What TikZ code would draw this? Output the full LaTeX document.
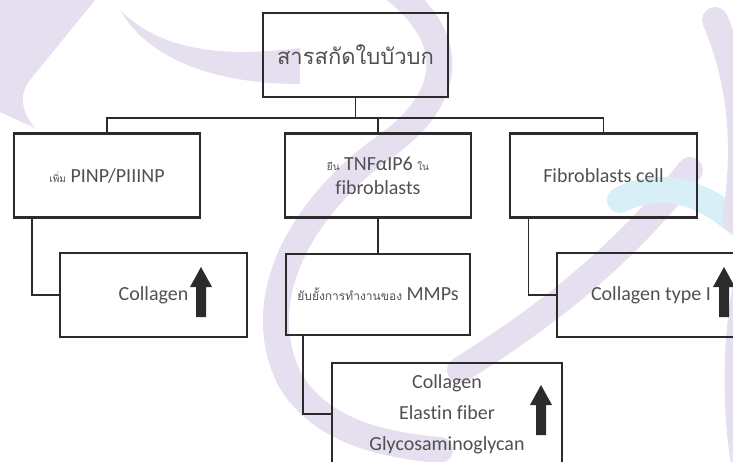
\documentclass[tikz,border=0pt]{standalone}
\usepackage{fontspec}
\setmainfont{Carlito}[Ligatures=NoCommon]
\newfontfamily\thai[Script=Thai]{Loma}
\usetikzlibrary{arrows.meta}
\definecolor{boxline}{HTML}{2B2B2B}
\definecolor{inkgrey}{HTML}{505050}
\definecolor{lavender}{HTML}{E5DFF0}
\definecolor{paleblue}{HTML}{D9EFF8}
\newcommand{\upblock}[1]{\fill[boxline] (#1) ++(-5,25) -- ++(0,-30) -- ++(-6,0) -- ++(11,-20) -- ++(11,20) -- ++(-6,0) -- ++(0,30) -- cycle;}

\begin{document}
\begin{tikzpicture}[x=1pt,y=-1pt,
  box/.style={draw=boxline,line width=2.2pt,minimum width=186,minimum height=84,
    inner sep=2pt,text=inkgrey,align=center,font=\fontsize{20}{23}\selectfont},
  link/.style={draw=boxline,line width=1.4pt},
  swirl/.style={line width=26pt,line cap=round}]
 \clip (0,0) rectangle (733,461);
 % watermark
 \fill[lavender] (0,0) -- (95,0) -- (30,80) .. controls (18,96) and (22,112) .. (35,128) -- (0,112) -- cycle;
 \fill[lavender] (120,10) .. controls (160,50) and (220,58) .. (300,48) -- (300,84)
   .. controls (220,84) and (150,62) .. cycle;
 \draw[swirl,lavender] (395,-10) .. controls (470,50) and (440,110) .. (380,150)
   .. controls (300,210) and (250,300) .. (290,380) .. controls (320,430) and (380,445) .. (440,450);
 \draw[swirl,lavender] (460,370) .. controls (540,320) and (620,260) .. (690,170);
 \draw[swirl,paleblue] (620,200) .. controls (660,180) and (700,190) .. (740,225);
 \draw[swirl,lavender] (715,20) .. controls (745,90) and (745,160) .. (735,220);
 \draw[swirl,lavender] (745,290) .. controls (735,350) and (735,410) .. (745,470);
 % boxes
 \node[box,minimum width=185,font=\thai\fontsize{22}{26}\selectfont] (top) at (355.5,55) {สารสกัดใบบัวบก};
 \node[box] (pinp) at (107,175.5) {{\thai\fontsize{10}{12}\selectfont เพิ่ม} PINP/PIIINP};
 \node[box] (tnf) at (378,175.5) {{\thai\fontsize{10}{12}\selectfont ยีน} TNFαIP6 {\thai\fontsize{10}{12}\selectfont ใน}\\[1pt]fibroblasts};
 \node[box,minimum width=187] (fib) at (603.5,175.5) {Fibroblasts cell};
 \node[box,minimum width=187] (col1) at (153.5,295) {Collagen};
 \node[box,minimum width=184,minimum height=81] (mmp) at (378,294.5) {{\thai\fontsize{12}{14}\selectfont ยับยั้งการทำงานของ} MMPs};
 \node[box,minimum width=188] (colI) at (651,295) {Collagen type I};
 \node[box,minimum width=230,minimum height=102,font=\fontsize{20}{31}\selectfont] (ecm) at (447,414)
   {Collagen\\Elastin fiber\\Glycosaminoglycan};
 % connectors
 \draw[link] (top.south) -- ++(0,20) coordinate (bus);
 \draw[link] (pinp.north) |- (bus) -| (fib.north);
 \draw[link] (tnf.north) -- (tnf.north |- bus);
 \draw[link] ([xshift=-75]pinp.south) |- (col1.west);
 \draw[link] (tnf.south) -- (mmp.north);
 \draw[link] ([xshift=-75]fib.south) |- (colI.west);
 \draw[link] ([xshift=-75]mmp.south) |- (ecm.west);
 % arrows
 \coordinate (upL) at (201,292);
 \coordinate (upR) at (724,292);
 \coordinate (upB) at (541,410);
 \upblock{upL}
 \upblock{upR}
 \upblock{upB}
\end{tikzpicture}
\end{document}
